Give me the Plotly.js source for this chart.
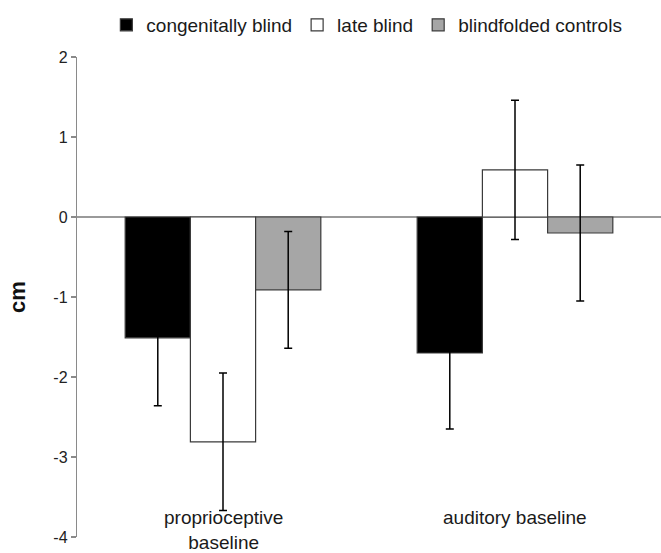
<!DOCTYPE html>
<html>
<head>
<meta charset="utf-8">
<script src="https://cdn.plot.ly/plotly-3.0.1.min.js"></script>
<style>html,body{margin:0;padding:0;background:#fff}#chart{width:661px;height:553px}</style>
</head>
<body>
<div id="chart"></div>
<script>
const categories = ["proprioceptive<br>baseline", "auditory baseline"];
const seriesNames = ["congenitally blind", "late blind", "blindfolded controls"];
const congenitallyBlind = [-1.51, -1.70];
const congenitallyBlindErr = [0.85, 0.95];
const lateBlind = [-2.81, 0.59];
const lateBlindErr = [0.86, 0.87];
const blindfolded = [-0.91, -0.20];
const blindfoldedErr = [0.73, 0.85];
const yTicks = [2, 1, 0, -1, -2, -3, -4];

const fills = ["#000000", "#ffffff", "#a6a6a6"];
const values = [congenitallyBlind, lateBlind, blindfolded];
const errs = [congenitallyBlindErr, lateBlindErr, blindfoldedErr];
const xIdx = categories.map((c, i) => i);

const traces = seriesNames.map((name, k) => ({
  type: 'bar',
  name: name,
  x: xIdx,
  y: values[k],
  marker: {color: fills[k], line: {color: '#3a3a3a', width: 1.2}},
  error_y: {type: 'data', array: errs[k], visible: true, color: '#000000', thickness: 1.5, width: 4},
  hoverinfo: 'none'
}));

const layout = {
  width: 661, height: 553,
  margin: {l: 77, r: 0, t: 57, b: 16},
  paper_bgcolor: '#fff', plot_bgcolor: '#fff',
  font: {family: 'Liberation Sans, Arial, sans-serif', color: '#222'},
  barmode: 'group', bargap: 0.33, bargroupgap: 0,
  showlegend: true,
  legend: {orientation: 'h', x: 0.555, xanchor: 'center', xref: 'container', y: 1 - 25/553, yref: 'container', yanchor: 'middle',
           font: {size: 19, color: '#1a1a1a'}, itemwidth: 30, traceorder: 'normal'},
  xaxis: {range: [-0.5, 1.5], showticklabels: false, showgrid: false, zeroline: false, showline: false, ticks: '', fixedrange: true},
  yaxis: {range: [-4, 2], tickvals: yTicks, ticktext: yTicks.map(String), showgrid: false,
          zeroline: true, zerolinecolor: '#9a9a9a', zerolinewidth: 1.2,
          showline: true, linecolor: '#8a8a8a', linewidth: 1.2,
          ticks: 'outside', ticklen: 5, tickcolor: '#8a8a8a', tickwidth: 1.2,
          tickfont: {size: 16, color: '#222'},
          title: {text: 'cm', font: {size: 22, color: '#111', weight: 'bold'}, standoff: 21},
          automargin: false},
  annotations: categories.map((c, i) => ({
    text: c, x: i, xref: 'x', y: -3.6, yref: 'y', yanchor: 'top', xanchor: 'center',
    showarrow: false, font: {size: 19, color: '#1a1a1a'}
  }))
};

Plotly.newPlot('chart', traces, layout, {staticPlot: true});
</script>
</body>
</html>
